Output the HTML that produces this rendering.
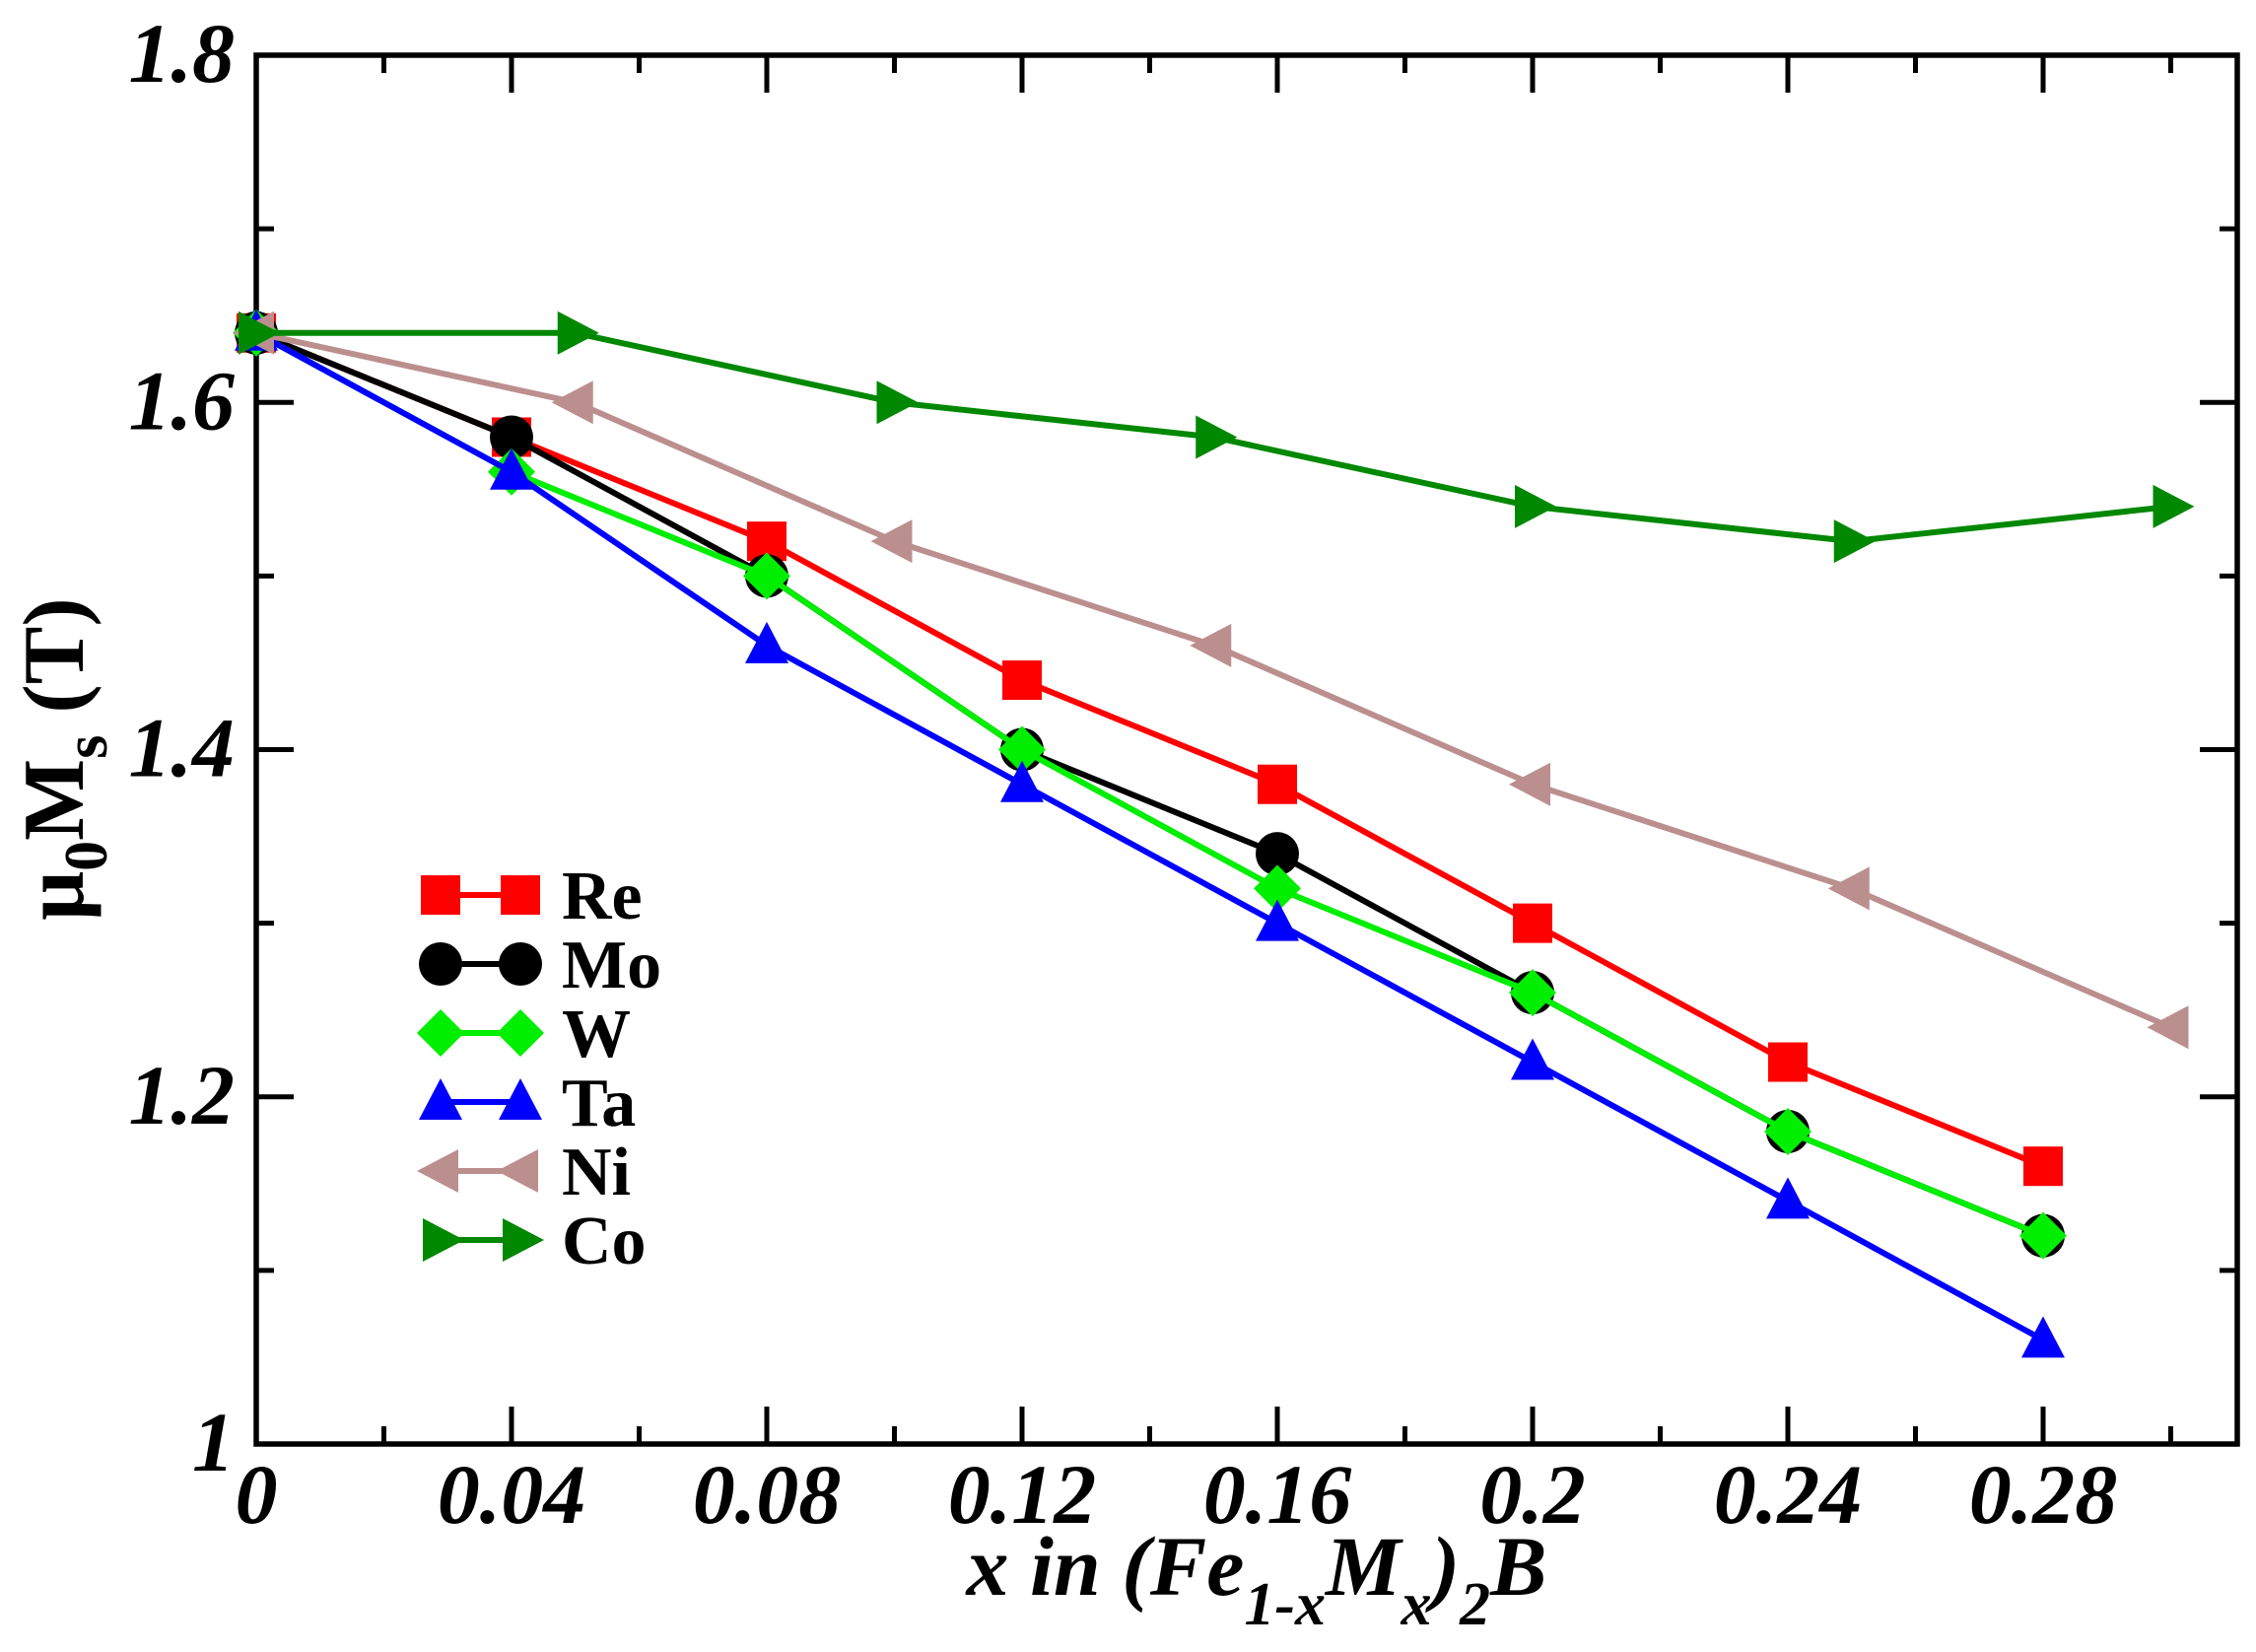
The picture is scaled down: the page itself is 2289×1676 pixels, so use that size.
<!DOCTYPE html>
<html><head><meta charset="utf-8"><style>
html,body{margin:0;padding:0;background:#fff;}
svg{display:block;}
text{font-family:"Liberation Serif",serif;font-weight:bold;}
</style></head><body>
<svg id="s" width="2289" height="1676" xmlns="http://www.w3.org/2000/svg">
<rect width="2289" height="1676" fill="#fff"/>
<g id="plot"></g>
<text x="1275" y="1618" font-size="86" font-style="italic" text-anchor="middle">x in (Fe<tspan font-size="62" dy="30">1-x</tspan><tspan dy="-30">M</tspan><tspan font-size="62" dy="30">x</tspan><tspan dy="-30">)</tspan><tspan font-size="62" dy="30">2</tspan><tspan dy="-30">B</tspan></text>
<text transform="translate(84,770) rotate(-90)" font-size="88" text-anchor="middle">μ<tspan font-size="62" dy="24">0</tspan><tspan dy="-24">M</tspan><tspan font-size="62" dy="24">s</tspan><tspan dy="-24"> (T)</tspan></text>
</svg>
<script>
var L=260,R=2270,T=56,B=1465;
function X(v){return L+v*6475;}
function Y(v){return B-(v-1)*1761.25;}
var h='';
for(var i=0;i<=15;i++){var v=i*0.02,x=X(v);if(x>R)break;var len=(i%2==0)?38:18;
h+='<line x1="'+x+'" y1="'+B+'" x2="'+x+'" y2="'+(B-len)+'" stroke="#000" stroke-width="5"/>';
h+='<line x1="'+x+'" y1="'+T+'" x2="'+x+'" y2="'+(T+len)+'" stroke="#000" stroke-width="5"/>';
if(i%2==0){var lab=(i==0)?'0':(Math.round(v*100)/100).toString();h+='<text x="'+x+'" y="1545" font-size="86" font-style="italic" text-anchor="middle">'+lab+'</text>';}}
for(var j=0;j<=8;j++){var v=1+j*0.1,y=Y(v),len=(j%2==0)?38:18;
h+='<line x1="'+L+'" y1="'+y+'" x2="'+(L+len)+'" y2="'+y+'" stroke="#000" stroke-width="5"/>';
h+='<line x1="'+R+'" y1="'+y+'" x2="'+(R-len)+'" y2="'+y+'" stroke="#000" stroke-width="5"/>';
if(j%2==0){var lab=(j==0)?'1':(1+j*0.1).toFixed(1);h+='<text x="'+(L-22)+'" y="'+(y+27)+'" font-size="86" font-style="italic" text-anchor="end">'+lab+'</text>';}}
h+='<rect x="'+L+'" y="'+T+'" width="'+(R-L)+'" height="'+(B-T)+'" fill="none" stroke="#000" stroke-width="5.5"/>';
function mk(t,x,y,c){
if(t=='sq')return '<rect x="'+(x-20)+'" y="'+(y-20)+'" width="40" height="40" fill="'+c+'"/>';
if(t=='ci')return '<circle cx="'+x+'" cy="'+y+'" r="22" fill="'+c+'"/>';
if(t=='di')return '<polygon points="'+x+','+(y-24)+' '+(x+24)+','+y+' '+x+','+(y+24)+' '+(x-24)+','+y+'" fill="'+c+'"/>';
if(t=='tu')return '<polygon points="'+x+','+(y-24)+' '+(x+22)+','+(y+18)+' '+(x-22)+','+(y+18)+'" fill="'+c+'"/>';
if(t=='tl')return '<polygon points="'+(x-24)+','+y+' '+(x+18)+','+(y-22)+' '+(x+18)+','+(y+22)+'" fill="'+c+'"/>';
if(t=='tr')return '<polygon points="'+(x+24)+','+y+' '+(x-18)+','+(y-22)+' '+(x-18)+','+(y+22)+'" fill="'+c+'"/>';}
var xs8=[0,.04,.08,.12,.16,.2,.24,.28],xs7=[0,.05,.1,.15,.2,.25,.3];
var S=[
['Re','#ff0000','sq',xs8,[1.64,1.58,1.52,1.44,1.38,1.30,1.22,1.16]],
['Mo','#000000','ci',xs8,[1.64,1.58,1.50,1.40,1.34,1.26,1.18,1.12]],
['W','#00ee00','di',xs8,[1.64,1.56,1.50,1.40,1.32,1.26,1.18,1.12]],
['Ta','#0000ff','tu',xs8,[1.64,1.56,1.46,1.38,1.30,1.22,1.14,1.06]],
['Ni','#bc8f8f','tl',xs7,[1.64,1.60,1.52,1.46,1.38,1.32,1.24]],
['Co','#008800','tr',xs7,[1.64,1.64,1.60,1.58,1.54,1.52,1.54]]];
S.forEach(function(s,k){var p=s[3].map(function(v,i){return X(v)+','+Y(s[4][i]);}).join(' ');
h+='<polyline points="'+p+'" fill="none" stroke="'+s[1]+'" stroke-width="6"/>';
s[3].forEach(function(v,i){h+=mk(s[2],X(v),Y(s[4][i]),s[1]);});
var ly=908+k*70;
h+='<line x1="447" y1="'+ly+'" x2="528" y2="'+ly+'" stroke="'+s[1]+'" stroke-width="6"/>';
h+=mk(s[2],447,ly,s[1])+mk(s[2],528,ly,s[1]);
h+='<text x="570" y="'+(ly+24)+'" font-size="70">'+s[0]+'</text>';});
document.getElementById('plot').innerHTML=h;
</script>
</body></html>
